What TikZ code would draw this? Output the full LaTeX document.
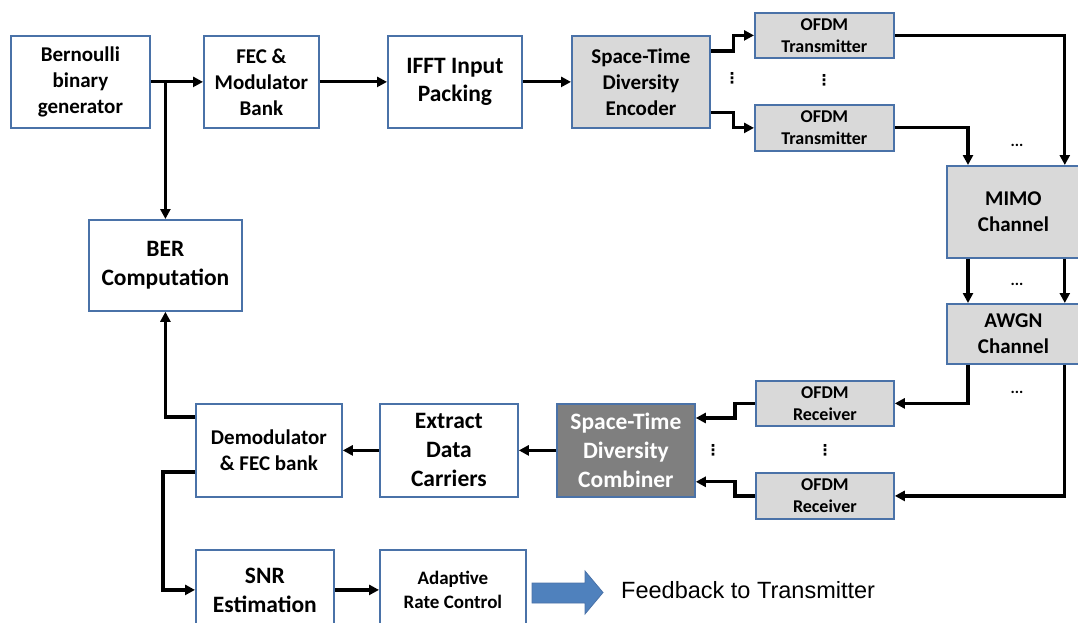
\documentclass[tikz,border=0pt]{standalone}
\usepackage{fontspec}
\setmainfont{Carlito}
\newfontfamily\arialf{Liberation Sans}
\newfontfamily\djv{DejaVu Sans}
\usetikzlibrary{arrows.meta,calc}
\definecolor{bcol}{RGB}{74,114,168}
\definecolor{lgray}{RGB}{217,217,217}
\definecolor{dgray}{RGB}{127,127,127}
\definecolor{arrowblue}{RGB}{79,129,189}
\newcommand{\fsz}[2]{\fontsize{#1}{#2}\selectfont}
\begin{document}
\begin{tikzpicture}[x=1pt,y=1pt,
  box/.style={draw=bcol, line width=1.8pt, fill=white, align=center, inner sep=0pt, anchor=north west, text=black},
  gbox/.style={box, fill=lgray},
  fA/.style={font=\bfseries\fsz{21}{26}},
  fB/.style={font=\bfseries\fsz{23.5}{29}},
  fC/.style={font=\bfseries\fsz{18}{22}},
  fD/.style={font=\bfseries\fsz{19}{24}},
  conn/.style={line width=3.2pt, -{Triangle[length=10pt,width=10pt]}},
  vdts/.style={font=\djv\bfseries\fsz{15}{15}, inner sep=0pt},
  hdts/.style={font=\bfseries\fsz{16}{16}, inner sep=0pt}
]
\useasboundingbox (0,0) rectangle (1078,-623);
% top row
\node[box, fA, minimum width=139, minimum height=92] (bern) at (10,-35) {Bernoulli\\binary\\generator};
\node[box, fA, minimum width=115, minimum height=92] (fec) at (203,-35) {FEC \&\\Modulator\\Bank};
\node[box, fB, minimum width=134, minimum height=92] (ifft) at (387,-35) {IFFT Input\\[-1pt]Packing};
\node[gbox, fA, minimum width=138, minimum height=92] (enc) at (571,-35) {Space-Time\\Diversity\\Encoder};
\node[gbox, fC, minimum width=139, minimum height=45] (tx1) at (754,-12) {OFDM\\Transmitter};
\node[gbox, fC, minimum width=139, minimum height=46] (tx2) at (754,-104) {OFDM\\Transmitter};
% right column
\node[gbox, fA, minimum width=133, minimum height=92] (mimo) at (946,-165) {MIMO\\Channel};
\node[gbox, fA, minimum width=133, minimum height=60] (awgn) at (946,-303) {AWGN\\Channel};
% BER
\node[box, fB, minimum width=153, minimum height=91] (ber) at (88,-219) {BER\\Computation};
% receive row
\node[gbox, fC, minimum width=138, minimum height=45] (rx1) at (755,-380) {OFDM\\Receiver};
\node[gbox, fC, minimum width=138, minimum height=46] (rx2) at (755,-472) {OFDM\\Receiver};
\node[box, fB, fill=dgray, text=white, minimum width=138, minimum height=93] (comb) at (556,-403) {Space-Time\\Diversity\\Combiner};
\node[box, fB, minimum width=138, minimum height=93] (ext) at (379,-403) {Extract\\Data\\Carriers};
\node[box, fA, minimum width=146, minimum height=93] (demod) at (195,-403) {Demodulator\\\& FEC bank};
% bottom row
\node[box, fB, minimum width=138, minimum height=80] (snr) at (195,-549) {SNR\\Estimation};
\node[box, fD, minimum width=146, minimum height=80] (arc) at (379,-549) {Adaptive\\Rate Control};
% feedback block arrow
\filldraw[fill=arrowblue, draw=bcol, line width=0.8pt] (532,-583) -- (585,-583) -- (585,-571) -- (603,-592.5) -- (585,-614) -- (585,-603) -- (532,-603) -- cycle;
\node[anchor=west, inner sep=0pt, font=\arialf\fsz{23.5}{28}] (fbt) at (621,-590) {Feedback to Transmitter};
% dots
\node[vdts] (d1) at (732,-78) {⋮};
\node[vdts] (d2) at (824,-80) {⋮};
\node[vdts] (d3) at (713,-450) {⋮};
\node[vdts] (d4) at (825,-450) {⋮};
\node[hdts] (h1) at (1017,-145) {...};
\node[hdts] (h2) at (1017,-284) {...};
\node[hdts] (h3) at (1017,-392) {...};
% connectors
\draw[conn] (bern.east) -- (fec.west);
\draw[conn] (bern.east -| ber.north) -- (ber.north);
\draw[conn] (fec) -- (ifft);
\draw[conn] (ifft) -- (enc);
\draw[conn] ([yshift=-16pt]enc.north east) -- ++(23,0) |- (tx1.west);
\draw[conn] ([yshift=16pt]enc.south east) -- ++(23,0) |- (tx2.west);
\draw[conn] (tx1.east) -| ([xshift=-16pt]mimo.north east);
\draw[conn] (tx2.east) -| ([xshift=22pt]mimo.north west);
\draw[conn] ([xshift=22pt]mimo.south west) -- ([xshift=22pt]awgn.north west);
\draw[conn] ([xshift=-16pt]mimo.south east) -- ([xshift=-16pt]awgn.north east);
\draw[conn] ([xshift=22pt]awgn.south west) |- (rx1.east);
\draw[conn] ([xshift=-16pt]awgn.south east) |- (rx2.east);
\draw[conn] (rx1.west) -- ++(-20,0) |- ([yshift=-15pt]comb.north east);
\draw[conn] (rx2.west) -- ++(-20,0) |- ([yshift=16pt]comb.south east);
\draw[conn] (comb) -- (ext);
\draw[conn] (ext) -- (demod);
\draw[conn] ([yshift=-14pt]demod.north west) -| (ber.south);
\draw[conn] ([yshift=-69pt]demod.north west) -- ++(-32,0) |- (snr.west);
\draw[conn] (snr) -- (arc);
\end{tikzpicture}
\end{document}
